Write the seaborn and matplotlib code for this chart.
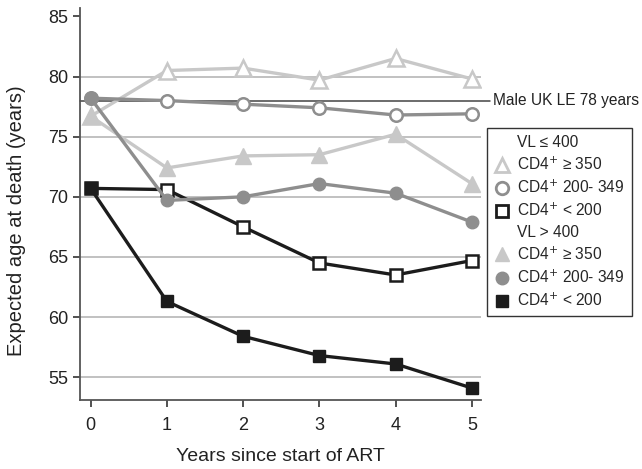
import matplotlib
matplotlib.use("Agg")
import matplotlib.pyplot as plt
from matplotlib.lines import Line2D
import seaborn as sns
import pandas as pd

# years since start of ART
years = [0, 1, 2, 3, 4, 5]

# VL <= 400
vl_lo_cd4_350 = [76.7, 80.5, 80.7, 79.7, 81.5, 79.8]
vl_lo_cd4_200 = [78.2, 78.0, 77.7, 77.4, 76.8, 76.9]
vl_lo_cd4_lt200 = [70.7, 70.6, 67.5, 64.5, 63.5, 64.7]

# VL > 400
vl_hi_cd4_350 = [76.7, 72.4, 73.4, 73.5, 75.2, 71.1]
vl_hi_cd4_200 = [78.2, 69.7, 70.0, 71.1, 70.3, 67.9]
vl_hi_cd4_lt200 = [70.7, 61.3, 58.4, 56.8, 56.1, 54.1]

male_uk_le = 78
yticks = [55, 60, 65, 70, 75, 80, 85]

LIGHT = "#c8c8c8"
MID = "#8e8e8e"
DARK = "#1c1c1c"

series = [
    (vl_lo_cd4_350, LIGHT, "^", False),
    (vl_lo_cd4_200, MID, "o", False),
    (vl_lo_cd4_lt200, DARK, "s", False),
    (vl_hi_cd4_350, LIGHT, "^", True),
    (vl_hi_cd4_200, MID, "o", True),
    (vl_hi_cd4_lt200, DARK, "s", True),
]

sns.set_theme(style="ticks")
plt.rcParams["font.family"] = ["Liberation Sans", "DejaVu Sans"]

fig = plt.figure(figsize=(6.42, 4.69), dpi=100)
ax = fig.add_axes([0.1246, 0.147, 0.6246, 0.836])

for g in [55, 60, 65, 70, 75, 80]:
    ax.axhline(g, color="#b0b0b0", lw=1.1, zorder=0)

ax.plot([-0.14, 5.24], [male_uk_le, male_uk_le], color="#444444", lw=1.1,
        clip_on=False, zorder=1)
ax.text(5.275, male_uk_le, "Male UK LE 78 years", va="center", ha="left",
        fontsize=11.2, color="#222222")

for vals, col, mk, filled in series:
    df = pd.DataFrame({"year": years, "age": vals})
    sns.lineplot(data=df, x="year", y="age", ax=ax, color=col, lw=2.4,
                 marker=mk, markersize=11 if mk == "^" else 9,
                 markerfacecolor=col if filled else "white",
                 markeredgecolor=col, markeredgewidth=1.8 if not filled else 1,
                 zorder=3)

ax.set_xlim(-0.14, 5.12)
ax.set_ylim(53.1, 85.7)
ax.set_xticks(years)
ax.set_yticks(yticks)
ax.tick_params(labelsize=13, colors="#222222", length=5, width=1.1)
ax.tick_params(axis="x", pad=7)
for s in ["top", "right"]:
    ax.spines[s].set_visible(False)
for s in ["left", "bottom"]:
    ax.spines[s].set_color("#555555")
    ax.spines[s].set_linewidth(1.3)

ax.set_xlabel("Years since start of ART", fontsize=14, color="#222222", labelpad=10)
ax.set_ylabel("Expected age at death (years)", fontsize=14.5, color="#222222")
ax.yaxis.set_label_coords(-0.135, 0.457)

blank = Line2D([], [], linestyle="none", marker=None)


def mh(col, mk, filled):
    return Line2D([], [], linestyle="none", marker=mk,
                  markersize=10 if mk == "^" else 9,
                  markerfacecolor=col if filled else "white",
                  markeredgecolor=col, markeredgewidth=2 if not filled else 1)


handles = [blank] + [mh(c, m, f) for _, c, m, f in series[:3]] + \
          [blank] + [mh(c, m, f) for _, c, m, f in series[3:]]
labels = ["VL \u2264 400", "CD4$^{+}$ \u2265 350", "CD4$^{+}$ 200- 349", "CD4$^{+}$ < 200",
          "VL > 400", "CD4$^{+}$ \u2265 350", "CD4$^{+}$ 200- 349", "CD4$^{+}$ < 200"]
leg = ax.legend(handles, labels, loc="upper left", bbox_to_anchor=(1.015, 0.694),
                borderaxespad=0, frameon=True, fancybox=False, fontsize=11.2,
                handlelength=1.0, handletextpad=0.5, labelspacing=0.37,
                borderpad=0.45, edgecolor="black")
leg.get_frame().set_linewidth(1.0)

fig.savefig("out.png", dpi=100)
